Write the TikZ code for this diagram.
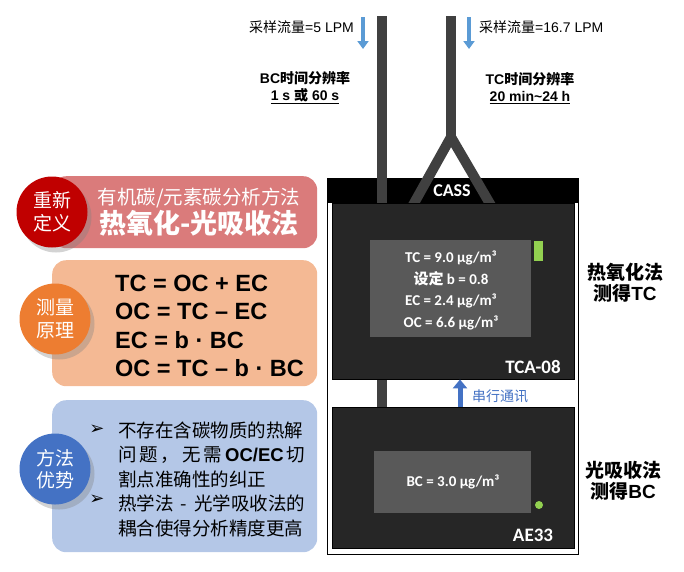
\documentclass[tikz,border=0pt]{standalone}
\usepackage{fontspec}
\setmainfont{Liberation Sans}
\newfontfamily\cjk{Noto Sans CJK SC}
\newfontfamily\carfont{Carlito}
\newfontfamily\dejavu{DejaVu Sans}
\usetikzlibrary{arrows.meta,positioning,shadows}
\definecolor{pipegray}{HTML}{404040}
\definecolor{flowblue}{HTML}{5B9BD5}
\definecolor{linkblue}{HTML}{4472C4}
\definecolor{defred}{HTML}{C00000}
\definecolor{defpanel}{HTML}{DA7B7B}
\definecolor{prinorange}{HTML}{ED7D31}
\definecolor{prinpanel}{HTML}{F4B994}
\definecolor{advblue}{HTML}{4472C4}
\definecolor{advpanel}{HTML}{B4C7E7}
\definecolor{devdark}{HTML}{262626}
\definecolor{screengray}{HTML}{595959}
\definecolor{ledgreen}{HTML}{92D050}

\begin{document}
\begin{tikzpicture}[x=1pt,y=-1pt, every node/.style={inner sep=0pt}, panel/.style={rounded corners=14pt,anchor=north west,minimum width=265pt}, badge/.style={circle,minimum size=71pt,text=white,align=center,font=\cjk\fontsize{19}{22.5}\selectfont,drop shadow={opacity=.35,shadow xshift=4pt,shadow yshift=-5pt}}, pipe/.style={draw=pipegray,line width=10pt}, flow/.style={draw=flowblue,line width=4.5pt,-{Triangle[width=11pt,length=8pt]}}, device/.style={draw=black,fill=devdark,anchor=north west,minimum width=242pt}, screen/.style={fill=screengray,anchor=north west}, devname/.style={text=white,font=\carfont\bfseries\fontsize{19}{19}\selectfont}, readout/.style={text=white,align=center,font=\carfont\bfseries\fontsize{15}{21.7}\selectfont}, method/.style={align=center,font=\bfseries\fontsize{19}{21}\selectfont}, reso/.style={align=center,font=\bfseries\fontsize{14}{17}\selectfont}]
\useasboundingbox (0,0) rectangle (684,571);

% left: definition / principle / advantages
\node[panel,fill=defpanel,minimum height=72pt] (defbox) at (52,176) {};
\node[panel,fill=prinpanel,minimum height=126pt] (prinbox) at (52,260) {};
\node[panel,fill=advpanel,minimum height=152pt] (advbox) at (52,400) {};
\node[badge,fill=defred] (def) at (52,212) {重新\\定义};
\node[badge,fill=prinorange] (prin) at (55,319) {测量\\原理};
\node[badge,fill=advblue] (adv) at (55,469) {方法\\优势};
\node[text=white,font=\cjk\fontsize{19.5}{19.5}\selectfont] (deftitle) at (199,198) {有机碳/元素碳分析方法};
\node[text=white,font=\cjk\bfseries\fontsize{27}{27}\selectfont] (defmain) at (199,223) {热氧化-光吸收法};
\node[anchor=west,align=left,font=\bfseries\fontsize{23.5}{28.3}\selectfont] (eqs) at (115,326) {TC = OC + EC\\OC = TC -- EC\\EC = b · BC\\OC = TC -- b · BC};
\node[font=\dejavu\fontsize{18}{18}\selectfont] (bul1) at (97,430) {➢};
\node[font=\dejavu\fontsize{18}{18}\selectfont] (bul2) at (97,500) {➢};
\node[anchor=west,align=left,font=\cjk\fontsize{18.5}{24.5}\selectfont] (advtext) at (118,479) {\hbox to 187pt{不存在含碳物质的热解}\\\hbox to 187pt{问\hfill 题\hfill ，\hfill 无\hfill 需\hfill{\rmfamily\bfseries OC/EC}\hfill 切}\\割点准确性的纠正\\\hbox to 187pt{热学法\hfill -\hfill 光学吸收法的}\\\hbox to 187pt{耦合使得分析精度更高}};

% sampling inlets
\coordinate (bctop) at (363,17); \coordinate (bcbot) at (363,49);
\coordinate (tctop) at (469,17); \coordinate (tcbot) at (469,49);
\draw[flow] (bctop) -- (bcbot); \draw[flow] (tctop) -- (tcbot);
\node[anchor=east,font=\fontsize{14}{14}\selectfont] (bcrate) at (354,27) {{\cjk 采样流量}=5 LPM};
\node[anchor=west,font=\fontsize{14}{14}\selectfont] (tcrate) at (479,27) {{\cjk 采样流量}=16.7 LPM};
\node[reso] (bcres) at (305,88) {BC{\cjk 时间分辨率}\\\underline{1 s {\cjk 或} 60 s}};
\node[reso] (tcres) at (530,88) {TC{\cjk 时间分辨率}\\\underline{20 min\textasciitilde 24 h}};

% CASS cabinet
\node[draw=black,line width=1.2pt,fill=white,anchor=north west,minimum width=251pt,minimum height=376pt] (cass) at (327,178) {};
\node[fill=black,anchor=north west,minimum width=251pt,minimum height=25pt] (bar) at (327,178) {};
\coordinate (split) at (451,137);
\draw[pipe] (382,16) -- (382,407);
\draw[pipe] (451,16) -- (split);
\draw[pipe,line join=round] (408,214) -- (split) -- (496,214);
\node[text=white,font=\carfont\bfseries\fontsize{18}{18}\selectfont] (casslbl) at (452,191) {CASS};
\node[device,minimum height=176pt] (tca) at (332,203) {};
\node[device,minimum height=141pt] (ae) at (332,407) {};
\node[screen,minimum width=161pt,minimum height=97pt] (tcascr) at (370,240) {};
\node[screen,minimum width=157pt,minimum height=62pt] (aescr) at (374,451) {};
\node[fill=ledgreen,anchor=north west,minimum width=9pt,minimum height=20pt] (tcaled) at (534,241) {};
\node[fill=ledgreen,circle,minimum size=8pt] (aeled) at (539,505) {};
\node[readout] (tcaread) at (451,290.5) {TC = 9.0 µg/m³\\{\cjk 设定} b = 0.8\\EC = 2.4 µg/m³\\OC = 6.6 µg/m³};
\node[readout] (aeread) at (453,482) {BC = 3.0 µg/m³};
\node[devname] (tcaname) at (533,367) {TCA-08};
\node[devname] (aename) at (533,535) {AE33};

% serial link
\coordinate (link) at (460,0);
\draw[draw=linkblue,line width=5pt,-{Triangle[width=14pt,length=9pt]}] (ae.north -| link) -- (tca.south -| link);
\node[anchor=west,text=linkblue,font=\cjk\fontsize{14}{14}\selectfont] (linklbl) at (472,396) {串行通讯};

% method labels
\node[method] (tcamethod) at (625,283) {{\cjk 热氧化法}\\{\cjk 测得}TC};
\node[method] (aemethod) at (623,481) {{\cjk 光吸收法}\\{\cjk 测得}BC};
\end{tikzpicture}
\end{document}
